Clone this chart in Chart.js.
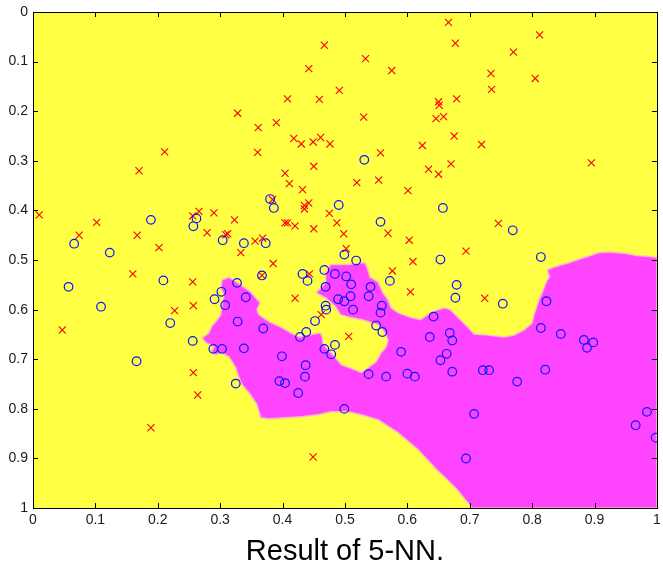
<!DOCTYPE html>
<html>
<head>
<meta charset="utf-8">
<title>Result of 5-NN.</title>
<script src="https://cdn.jsdelivr.net/npm/chart.js@4.4.1/dist/chart.umd.min.js"></script>
<style>
    html, body { margin: 0; padding: 0; background: #ffffff; }
    canvas { display: block; }
</style>
</head>
<body>
<canvas id="knnChart" width="663" height="568"></canvas>
<script>
// tick labels
const xTicks = [0, 0.1, 0.2, 0.3, 0.4, 0.5, 0.6, 0.7, 0.8, 0.9, 1];
const yTicks = [0, 0.1, 0.2, 0.3, 0.4, 0.5, 0.6, 0.7, 0.8, 0.9, 1];

// class "x" samples (red)
const classX = [
    [0.170, 0.320], [0.211, 0.282], [0.328, 0.204], [0.666, 0.021], [0.467, 0.067],
    [0.533, 0.094], [0.677, 0.063], [0.442, 0.114], [0.575, 0.118], [0.491, 0.158],
    [0.408, 0.175], [0.459, 0.176], [0.650, 0.181], [0.651, 0.188], [0.679, 0.175],
    [0.361, 0.233], [0.390, 0.223], [0.530, 0.212], [0.646, 0.215], [0.658, 0.211],
    [0.418, 0.255], [0.430, 0.266], [0.449, 0.262], [0.461, 0.253], [0.476, 0.266],
    [0.360, 0.283], [0.675, 0.250], [0.624, 0.269], [0.557, 0.284], [0.670, 0.306],
    [0.450, 0.311], [0.634, 0.317], [0.650, 0.327], [0.404, 0.325], [0.411, 0.346],
    [0.519, 0.344], [0.554, 0.339], [0.432, 0.358], [0.601, 0.360], [0.812, 0.046],
    [0.770, 0.081], [0.734, 0.124], [0.805, 0.134], [0.735, 0.156], [0.719, 0.267],
    [0.895, 0.304], [0.010, 0.409], [0.102, 0.424], [0.074, 0.450], [0.167, 0.450],
    [0.202, 0.475], [0.160, 0.528], [0.047, 0.641], [0.256, 0.544], [0.257, 0.592],
    [0.227, 0.602], [0.256, 0.411], [0.266, 0.402], [0.290, 0.405], [0.279, 0.445],
    [0.323, 0.419], [0.309, 0.449], [0.312, 0.447], [0.333, 0.485], [0.257, 0.727],
    [0.264, 0.772], [0.189, 0.838], [0.384, 0.378], [0.435, 0.390], [0.442, 0.385],
    [0.435, 0.397], [0.475, 0.406], [0.404, 0.425], [0.408, 0.425], [0.420, 0.431],
    [0.487, 0.425], [0.450, 0.437], [0.498, 0.447], [0.569, 0.446], [0.356, 0.462],
    [0.368, 0.456], [0.603, 0.460], [0.502, 0.477], [0.609, 0.503], [0.385, 0.507],
    [0.576, 0.522], [0.367, 0.531], [0.443, 0.528], [0.605, 0.564], [0.420, 0.577],
    [0.462, 0.610], [0.506, 0.654], [0.449, 0.897], [0.746, 0.426], [0.694, 0.482],
    [0.724, 0.577]
];

// class "o" samples (blue)
const classO = [
    [0.531, 0.298], [0.380, 0.377], [0.386, 0.395], [0.490, 0.389], [0.657, 0.395],
    [0.189, 0.419], [0.066, 0.467], [0.123, 0.485], [0.209, 0.541], [0.057, 0.554],
    [0.109, 0.594], [0.220, 0.627], [0.256, 0.663], [0.166, 0.704], [0.262, 0.416],
    [0.257, 0.432], [0.304, 0.460], [0.327, 0.546], [0.291, 0.579], [0.302, 0.564],
    [0.308, 0.591], [0.328, 0.624], [0.289, 0.679], [0.303, 0.679], [0.325, 0.749],
    [0.557, 0.423], [0.338, 0.466], [0.373, 0.466], [0.499, 0.489], [0.518, 0.501],
    [0.653, 0.499], [0.467, 0.520], [0.484, 0.528], [0.367, 0.531], [0.432, 0.528],
    [0.440, 0.542], [0.502, 0.533], [0.572, 0.542], [0.510, 0.549], [0.469, 0.554],
    [0.679, 0.550], [0.541, 0.554], [0.341, 0.575], [0.509, 0.573], [0.538, 0.573],
    [0.489, 0.579], [0.499, 0.583], [0.677, 0.576], [0.469, 0.592], [0.470, 0.600],
    [0.559, 0.592], [0.513, 0.600], [0.557, 0.606], [0.642, 0.614], [0.452, 0.623],
    [0.550, 0.632], [0.369, 0.638], [0.560, 0.645], [0.438, 0.645], [0.668, 0.647],
    [0.428, 0.655], [0.636, 0.655], [0.672, 0.662], [0.484, 0.671], [0.338, 0.678],
    [0.467, 0.679], [0.590, 0.685], [0.478, 0.690], [0.399, 0.694], [0.663, 0.689],
    [0.437, 0.712], [0.436, 0.735], [0.395, 0.744], [0.404, 0.748], [0.425, 0.768],
    [0.499, 0.800], [0.538, 0.730], [0.566, 0.735], [0.600, 0.729], [0.612, 0.735],
    [0.653, 0.702], [0.672, 0.725], [0.721, 0.722], [0.731, 0.722], [0.776, 0.745],
    [0.821, 0.721], [0.707, 0.810], [0.694, 0.900], [0.984, 0.806], [0.966, 0.833],
    [0.998, 0.858], [0.883, 0.661], [0.898, 0.666], [0.888, 0.677], [0.769, 0.440],
    [0.814, 0.494], [0.753, 0.588], [0.823, 0.583], [0.814, 0.637], [0.846, 0.649]
];

// outline of the area that 5-NN assigns to class "o"
const regionO = [
    [0.303, 0.540], [0.314, 0.535], [0.321, 0.540], [0.349, 0.564], [0.357, 0.576],
    [0.364, 0.586], [0.359, 0.600], [0.362, 0.610], [0.378, 0.624], [0.399, 0.636],
    [0.414, 0.647], [0.426, 0.655], [0.437, 0.653], [0.450, 0.649], [0.461, 0.647],
    [0.464, 0.657], [0.465, 0.669], [0.473, 0.681], [0.485, 0.697], [0.494, 0.711],
    [0.516, 0.721], [0.526, 0.727], [0.537, 0.717], [0.550, 0.705], [0.558, 0.687],
    [0.566, 0.675], [0.569, 0.661], [0.566, 0.651], [0.561, 0.641], [0.553, 0.630],
    [0.537, 0.624], [0.526, 0.620], [0.510, 0.616], [0.493, 0.610], [0.485, 0.594],
    [0.469, 0.576], [0.454, 0.566], [0.469, 0.546], [0.469, 0.526], [0.477, 0.509],
    [0.505, 0.509], [0.532, 0.505], [0.537, 0.520], [0.540, 0.534], [0.553, 0.544],
    [0.561, 0.566], [0.569, 0.580], [0.574, 0.596], [0.585, 0.606], [0.606, 0.616],
    [0.621, 0.620], [0.637, 0.606], [0.649, 0.600], [0.660, 0.596], [0.669, 0.600],
    [0.680, 0.614], [0.696, 0.634], [0.707, 0.649], [0.728, 0.651], [0.755, 0.655],
    [0.771, 0.651], [0.787, 0.641], [0.800, 0.627], [0.803, 0.610], [0.811, 0.580],
    [0.816, 0.566], [0.824, 0.540], [0.828, 0.534], [0.824, 0.520], [0.835, 0.514],
    [0.860, 0.505], [0.883, 0.495], [0.908, 0.485], [0.924, 0.484], [0.951, 0.487],
    [0.967, 0.491], [0.988, 0.493], [1.000, 0.495], [1.000, 1.000], [0.704, 1.000],
    [0.693, 0.983], [0.680, 0.963], [0.664, 0.943], [0.649, 0.925], [0.617, 0.882],
    [0.585, 0.848], [0.553, 0.822], [0.526, 0.812], [0.505, 0.806], [0.478, 0.806],
    [0.457, 0.812], [0.430, 0.816], [0.405, 0.818], [0.378, 0.820], [0.365, 0.818],
    [0.359, 0.792], [0.349, 0.772], [0.335, 0.751], [0.330, 0.737], [0.325, 0.717],
    [0.319, 0.705], [0.314, 0.695], [0.303, 0.687], [0.293, 0.691], [0.286, 0.685],
    [0.290, 0.675], [0.278, 0.667], [0.271, 0.657], [0.282, 0.647], [0.286, 0.634],
    [0.293, 0.624], [0.301, 0.610], [0.303, 0.590], [0.306, 0.570], [0.301, 0.556],
    [0.303, 0.540]
];

const YELLOW = '#ffff44';
const MAGENTA = '#ff44ff';
const FONT_FAMILY = '"Liberation Sans", Arial, Helvetica, sans-serif';
const TICK_FONT = { family: FONT_FAMILY, size: 14 };

const toXY = arr => arr.map(([x, y]) => ({ x, y }));

// yellow background, inward tick marks and a box frame (matlab look)
const axesBox = {
    id: 'axesBox',
    beforeDraw(chart) {
        const { ctx, chartArea: a } = chart;
        ctx.save();
        ctx.fillStyle = YELLOW;
        ctx.fillRect(a.left, a.top, a.right - a.left, a.bottom - a.top);
        ctx.restore();
    },
    afterDraw(chart) {
        const { ctx, chartArea: a, scales } = chart;
        const len = 5;
        ctx.save();
        ctx.strokeStyle = '#000000';
        ctx.lineWidth = 1;
        ctx.beginPath();
        xTicks.forEach(v => {
            const px = Math.round(scales.x.getPixelForValue(v)) + 0.5;
            ctx.moveTo(px, a.bottom); ctx.lineTo(px, a.bottom - len);
            ctx.moveTo(px, a.top); ctx.lineTo(px, a.top + len);
        });
        yTicks.forEach(v => {
            const py = Math.round(scales.y.getPixelForValue(v)) + 0.5;
            ctx.moveTo(a.left, py); ctx.lineTo(a.left + len, py);
            ctx.moveTo(a.right, py); ctx.lineTo(a.right - len, py);
        });
        ctx.stroke();
        ctx.strokeRect(Math.round(a.left) + 0.5, Math.round(a.top) + 0.5,
            Math.round(a.right - a.left), Math.round(a.bottom - a.top));
        ctx.restore();
    }
};

new Chart(document.getElementById('knnChart'), {
    type: 'scatter',
    data: {
        datasets: [
            {
                label: 'region o',
                type: 'line',
                data: toXY(regionO),
                fill: 'shape',
                backgroundColor: MAGENTA,
                borderColor: 'rgba(255, 190, 190, 0.9)',
                borderWidth: 1.5,
                pointRadius: 0,
                tension: 0,
                clip: 0,
                order: 3
            },
            {
                label: 'x',
                data: toXY(classX),
                pointStyle: 'crossRot',
                pointRadius: 5,
                borderColor: '#ff0000',
                backgroundColor: '#ff0000',
                borderWidth: 1.1,
                clip: 0,
                order: 2
            },
            {
                label: 'o',
                data: toXY(classO),
                pointStyle: 'circle',
                pointRadius: 4.3,
                borderColor: '#0a14ff',
                backgroundColor: 'rgba(0, 0, 0, 0)',
                borderWidth: 1.2,
                clip: 0,
                order: 1
            }
        ]
    },
    options: {
        responsive: false,
        devicePixelRatio: 1,
        animation: false,
        events: [],
        layout: { padding: { top: 12, right: 2, left: 0, bottom: 0 } },
        plugins: {
            legend: { display: false },
            tooltip: { enabled: false },
            title: {
                display: true,
                text: 'Result of 5-NN.',
                position: 'bottom',
                fullSize: false, // centre under the axes, not the whole canvas
                color: '#000000',
                font: { family: FONT_FAMILY, size: 29, weight: 'normal', lineHeight: 1.1 },
                padding: { top: 6, bottom: 0 }
            }
        },
        scales: {
            x: {
                type: 'linear',
                min: 0,
                max: 1,
                grid: { display: false, drawTicks: false },
                border: { display: false },
                ticks: { padding: 4, color: '#1a1a1a', font: TICK_FONT, maxRotation: 0, autoSkip: false, callback: v => String(v) },
                afterBuildTicks: s => { s.ticks = xTicks.map(v => ({ value: v })); },
                afterFit: s => { s.height = 22; s.paddingLeft = 0; s.paddingRight = 0; }
            },
            y: {
                type: 'linear',
                min: 0,
                max: 1,
                reverse: true,
                grid: { display: false, drawTicks: false },
                border: { display: false },
                ticks: { padding: 5, color: '#1a1a1a', font: TICK_FONT, autoSkip: false, callback: v => String(v) },
                afterBuildTicks: s => { s.ticks = yTicks.map(v => ({ value: v })); },
                afterFit: s => { s.width = 33; s.paddingTop = 0; s.paddingBottom = 0; }
            }
        }
    },
    plugins: [axesBox]
});
</script>
</body>
</html>
